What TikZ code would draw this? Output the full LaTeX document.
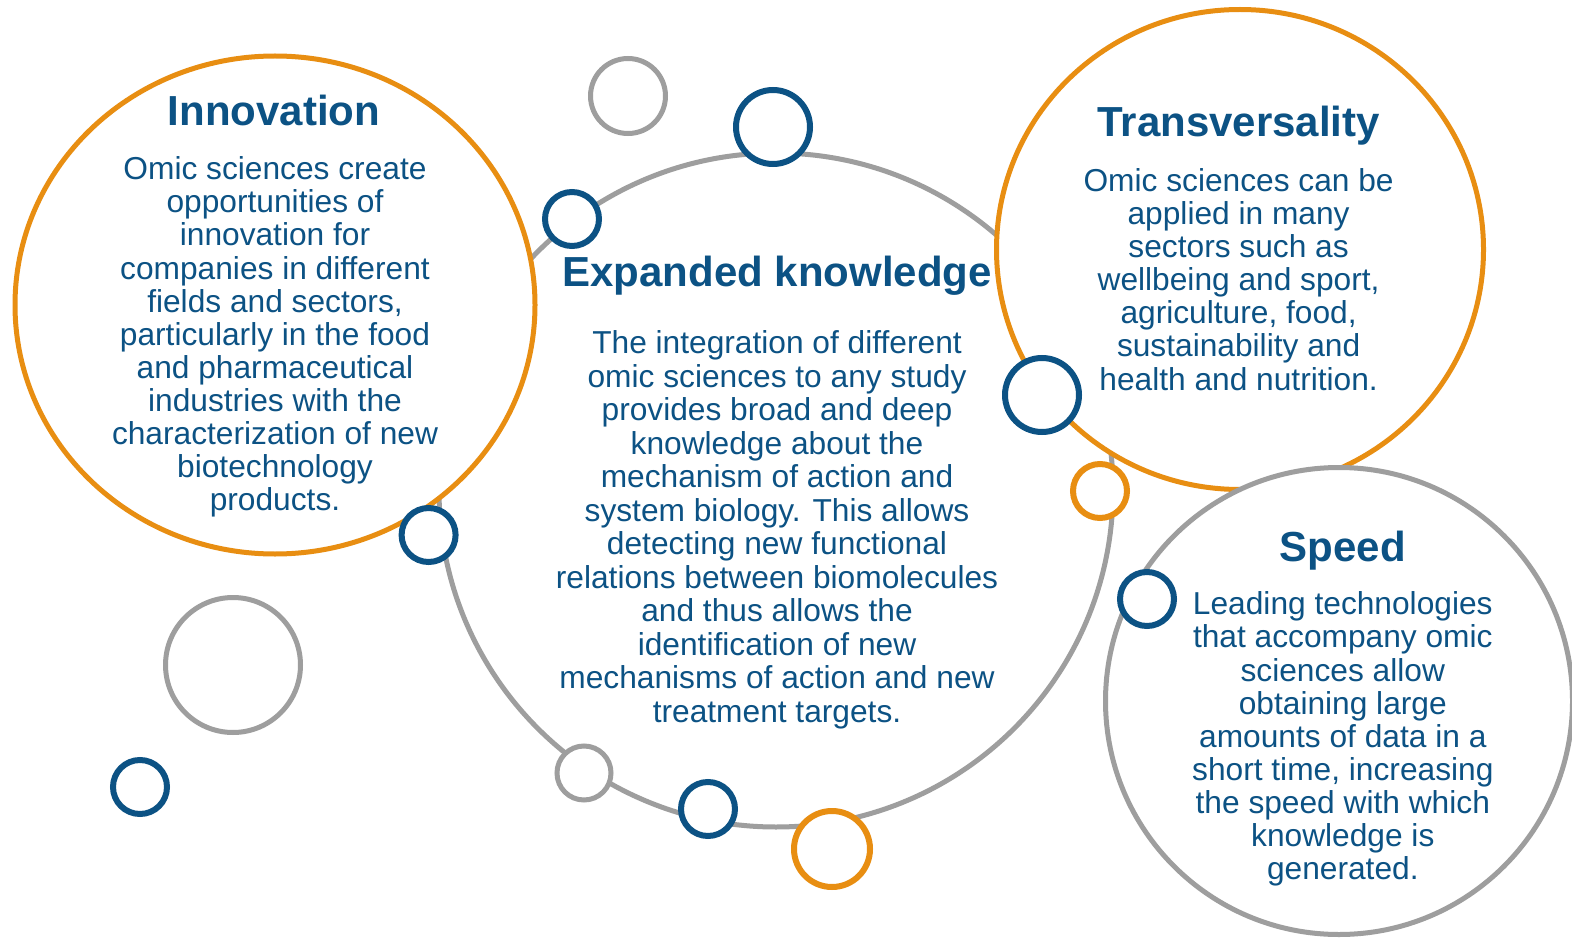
\documentclass[tikz,border=0pt]{standalone}
\usepackage{fontspec}
\setmainfont{Liberation Sans}
\usetikzlibrary{shapes.geometric}

\definecolor{omicblue}{RGB}{12,82,132}
\definecolor{omicorange}{RGB}{232,142,18}
\definecolor{omicgray}{RGB}{158,158,158}

\begin{document}
\begin{tikzpicture}[x=1pt,y=-1pt,
      bigcircle/.style={draw,ellipse,line width=5pt,fill=white,inner sep=0pt},
      bubble/.style={draw,circle,fill=white,inner sep=0pt,line width=6pt,minimum size=54pt},
      titletext/.style={font=\fontsize{42}{44}\selectfont\bfseries,text=omicblue,inner sep=0pt,anchor=base},
      bodytext/.style={font=\fontsize{31.7}{33.1}\selectfont,text=omicblue,align=center,inner sep=0pt,anchor=north}]
      \useasboundingbox (0,0) rectangle (1572,944);

      % Circles
      \node[bigcircle,draw=omicgray,minimum width=674pt,minimum height=674pt]   (knowledge)      at (776,490)    {};
      \node[bigcircle,draw=omicorange,minimum width=520pt,minimum height=498pt] (innovation)     at (275,305)    {};
      \node[bigcircle,draw=omicorange,minimum width=487pt,minimum height=480pt] (transversality) at (1240,249.5) {};
      \node[bigcircle,draw=omicgray,minimum width=467pt,minimum height=467pt]   (speed)          at (1339,701)   {};

      % Bubbles
      \node[bubble,draw=omicgray,line width=5pt,minimum size=75pt]  (bubbletop)    at (628,96)    {};
      \node[bubble,draw=omicblue,minimum size=74pt]                 (bubbleblue1)  at (773,127)   {};
      \node[bubble,draw=omicblue]                                   (bubbleblue2)  at (572,219)   {};
      \node[bubble,draw=omicblue,minimum size=74pt]                 (bubbleblue3)  at (1042,395)  {};
      \node[bubble,draw=omicorange]                                 (bubbleorange1) at (1100,491) {};
      \node[bubble,draw=omicblue]                                   (bubbleblue4)  at (428.6,535) {};
      \node[bubble,draw=omicgray,line width=5pt,minimum size=135pt] (bubblebig)    at (233,665)   {};
      \node[bubble,draw=omicblue]                                   (bubbleblue5)  at (140,787)   {};
      \node[bubble,draw=omicgray,line width=5pt]                    (bubblegray)   at (584,773)   {};
      \node[bubble,draw=omicblue]                                   (bubbleblue6)  at (708,809)   {};
      \node[bubble,draw=omicorange,minimum size=76pt]               (bubbleorange2) at (832,849)  {};
      \node[bubble,draw=omicblue]                                   (bubbleblue7)  at (1147,599)  {};

      % Texts
      \node[titletext] (innovationtitle) at (274,126) {Innovation};
      \node[bodytext]  (innovationtext)  at (275,156.6) {Omic sciences create\\opportunities of\\innovation for\\companies in different\\fields and sectors,\\particularly in the food\\and pharmaceutical\\industries with the\\characterization of new\\biotechnology\\products.};

      \node[titletext] (knowledgetitle) at (777,287) {Expanded knowledge};
      \node[bodytext,font=\fontsize{31.7}{33.5}\selectfont] (knowledgetext) at (777,330.7) {The integration of different\\omic sciences to any study\\provides broad and deep\\knowledge about the\\mechanism of action and\\system biology. This allows\\detecting new functional\\relations between biomolecules\\and thus allows the\\identification of new\\mechanisms of action and new\\treatment targets.};

      \node[titletext] (transversalitytitle) at (1238.6,136.7) {Transversality};
      \node[bodytext]  (transversalitytext)  at (1238.6,168.3) {Omic sciences can be\\applied in many\\sectors such as\\wellbeing and sport,\\agriculture, food,\\sustainability and\\health and nutrition.};

      \node[titletext] (speedtitle) at (1342.7,561) {Speed};
      \node[bodytext]  (speedtext)  at (1342.8,591.7) {Leading technologies\\that accompany omic\\sciences allow\\obtaining large\\amounts of data in a\\short time, increasing\\the speed with which\\knowledge is\\generated.};

    \end{tikzpicture}
\end{document}
